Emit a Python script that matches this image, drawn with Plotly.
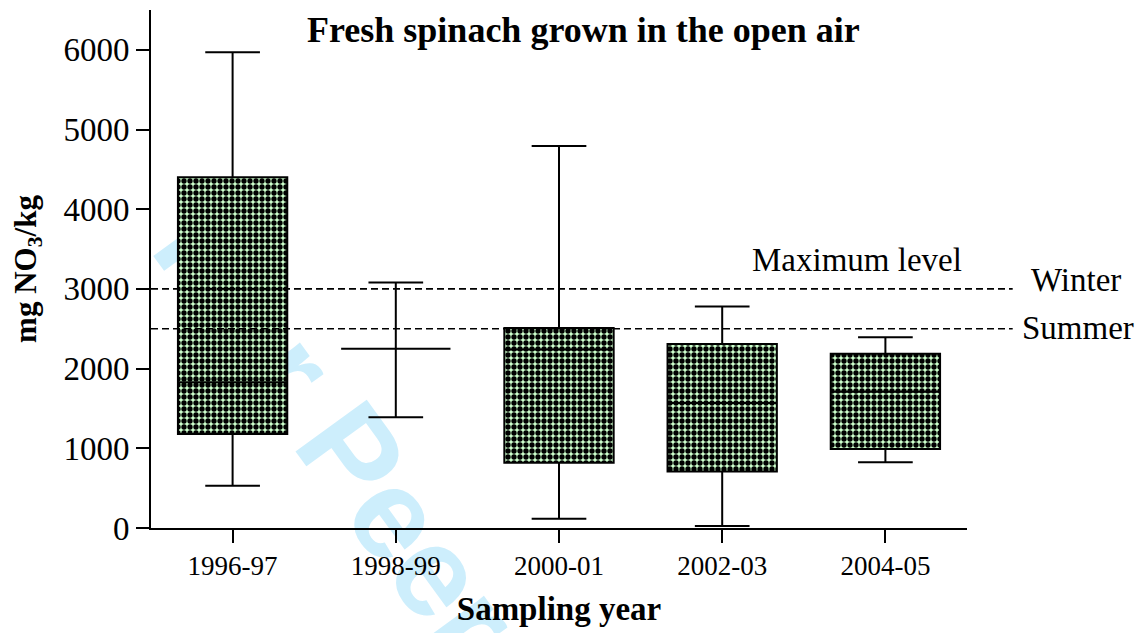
import plotly.graph_objects as go

# ---- data ----
categories = ["1996-97", "1998-99", "2000-01", "2002-03", "2004-05"]
q1_vals = [1180, 2250, 820, 710, 990]
median_vals = [1830, 2250, 2240, 1570, 1710]
q3_vals = [4400, 2250, 2510, 2310, 2185]
lower_vals = [530, 1390, 115, 25, 825]
upper_vals = [5970, 3080, 4795, 2780, 2395]

max_levels = {"Winter": 3000, "Summer": 2500}
y_ticks = [0, 1000, 2000, 3000, 4000, 5000, 6000]
watermark = "For Peer Review"

SERIF = "Liberation Serif, Times New Roman, serif"

fig = go.Figure()

# checkered box fill (bars spanning Q1..Q3)
fig.add_trace(go.Bar(
    x=categories,
    y=[b - a for a, b in zip(q1_vals, q3_vals)],
    base=q1_vals,
    width=0.67,
    marker=dict(
        color="#ccffcc",
        line=dict(width=0),
        pattern=dict(shape=".", fgcolor="black", bgcolor="#ccffcc",
                     size=6, solidity=0.62, fillmode="replace"),
    ),
    hoverinfo="skip",
    showlegend=False,
))

# box outlines, medians and whiskers
fig.add_trace(go.Box(
    x=categories,
    q1=q1_vals,
    median=median_vals,
    q3=q3_vals,
    lowerfence=lower_vals,
    upperfence=upper_vals,
    width=0.67,
    whiskerwidth=0.5,
    line=dict(color="black", width=2),
    fillcolor="rgba(0,0,0,0)",
    boxpoints=False,
    showlegend=False,
))

# faint watermark behind the data (invisible line carrying a label, drawn below traces)
fig.add_shape(type="line", xref="paper", yref="paper", layer="below",
              x0=0.196, y0=0.294, x1=0.627, y1=-0.644,
              line=dict(color="rgba(0,0,0,0)", width=0),
              label=dict(text=watermark, textangle=54, textposition="middle",
                         yanchor="middle",
                         font=dict(family="Liberation Sans, Arial, sans-serif",
                                   size=128, weight="bold", color="#cdeefc")))

# maximum level dashed lines
for name, val in max_levels.items():
    fig.add_shape(type="line", xref="paper", yref="y",
                  x0=0, x1=1.056, y0=val, y1=val,
                  line=dict(color="black", width=1.6, dash="7px,4px"))

annotations = [
    dict(text="Maximum level", xref="paper", yref="y", x=0.865, y=3360,
         showarrow=False, font=dict(family=SERIF, size=33, color="black"),
         xanchor="center", yanchor="middle"),
    dict(text="Winter", xref="paper", yref="y", x=1.134, y=3110,
         showarrow=False, font=dict(family=SERIF, size=33, color="black"),
         xanchor="center", yanchor="middle"),
    dict(text="Summer", xref="paper", yref="y", x=1.136, y=2515,
         showarrow=False, font=dict(family=SERIF, size=33, color="black"),
         xanchor="center", yanchor="middle"),
    dict(text="<b>Fresh spinach grown in the open air</b>", xref="paper", yref="paper",
         x=0.53, y=(518 - 20) / 518, showarrow=False,
         font=dict(family=SERIF, size=36, color="black"),
         xanchor="center", yanchor="middle"),
]

# page body has an 8px margin: compensate so the plot lands where the reference has it
fig.update_layout(
    width=1139, height=625,
    margin=dict(l=143, r=180, t=2, b=105),
    paper_bgcolor="white", plot_bgcolor="rgba(0,0,0,0)",
    annotations=annotations,
    xaxis=dict(
        type="category",
        range=[-0.5, 4.5],
        showline=True, linecolor="black", linewidth=2,
        ticks="outside", ticklen=13, tickwidth=2, tickcolor="black",
        tickfont=dict(family=SERIF, size=27, color="black"),
        showgrid=False, zeroline=False,
        title=dict(text="<b>Sampling year</b>",
                   font=dict(family=SERIF, size=33, color="black"), standoff=16),
    ),
    yaxis=dict(
        range=[0, 6500],
        tickvals=y_ticks,
        showline=True, linecolor="black", linewidth=2,
        ticks="outside", ticklen=13, tickwidth=2, tickcolor="black",
        tickfont=dict(family=SERIF, size=33, color="black"),
        showgrid=False, zeroline=False,
        title=dict(text="<b>mg NO<sub>3</sub>/kg</b>",
                   font=dict(family=SERIF, size=31, color="black"), standoff=18),
    ),
)

fig.write_html("out.html")
